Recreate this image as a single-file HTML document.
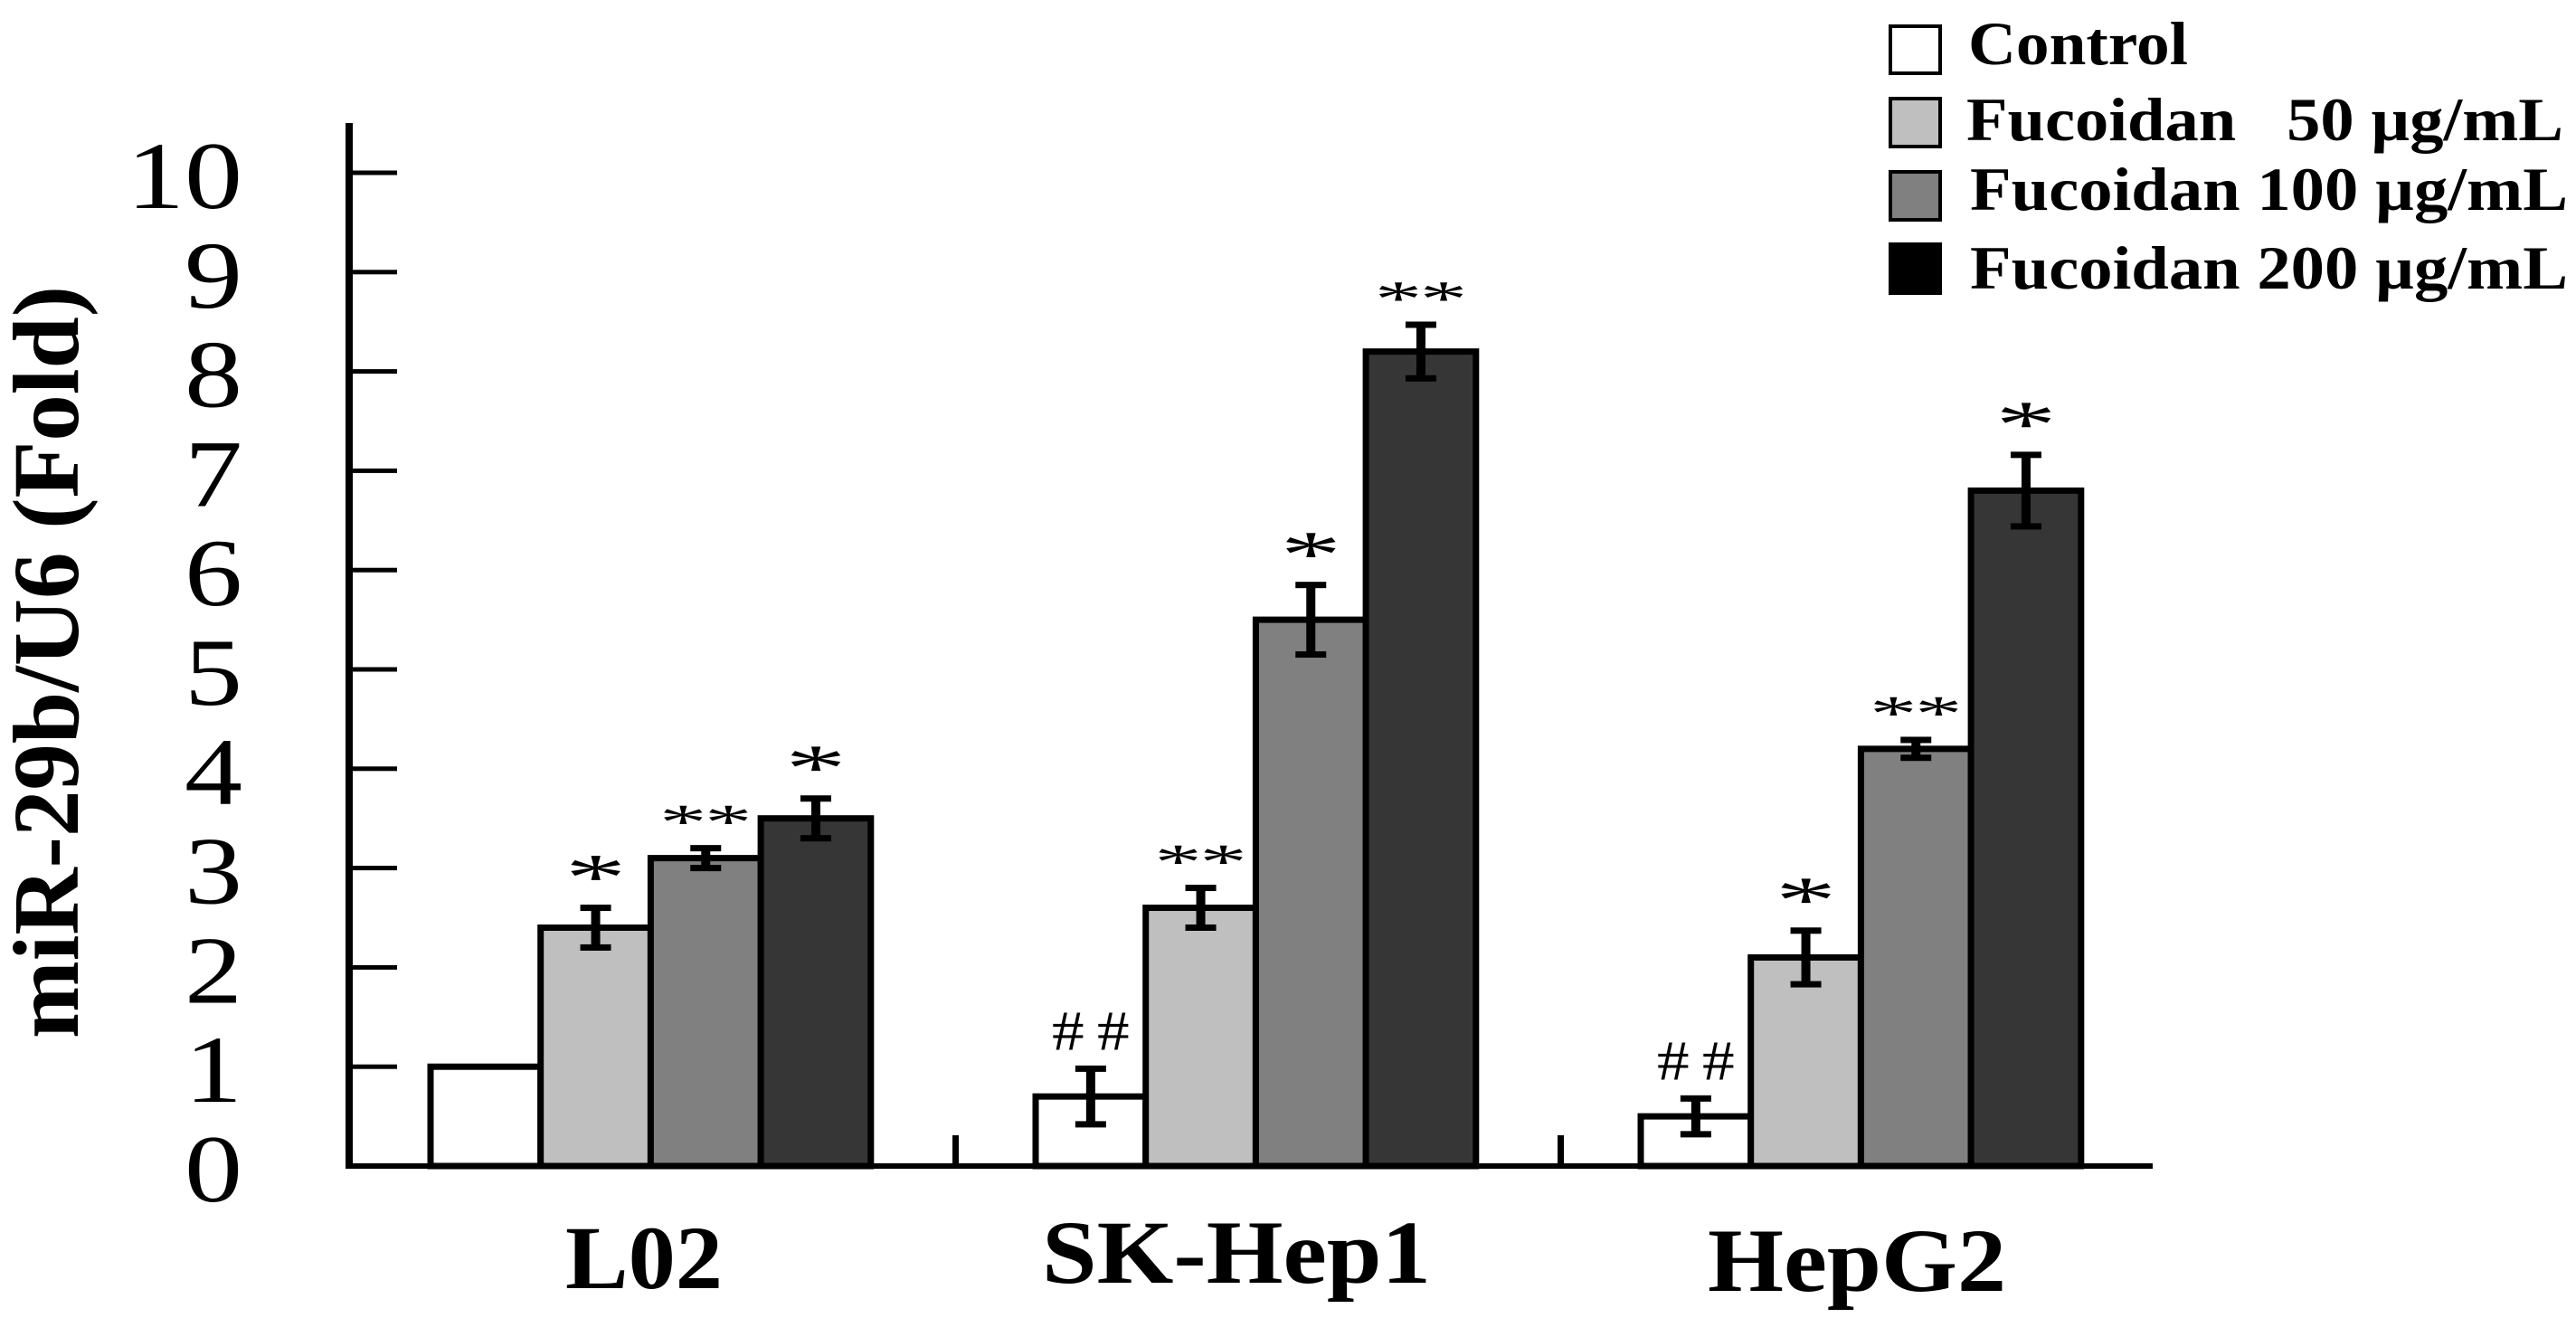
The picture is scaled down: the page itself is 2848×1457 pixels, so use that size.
<!DOCTYPE html>
<html lang="en">
<head>
<meta charset="utf-8">
<title>miR-29b/U6 fold change by cell line</title>
<style>
html,body{margin:0;padding:0;background:#fff;width:2848px;height:1457px;overflow:hidden}
svg{display:block}
text{font-family:"Liberation Serif","DejaVu Serif",serif;fill:#000}
.bold{font-weight:bold}
</style>
</head>
<body>
<svg id="chart" xmlns="http://www.w3.org/2000/svg" width="2848" height="1457" viewBox="0 0 2848 1457">
  <rect x="0" y="0" width="2848" height="1457" fill="#ffffff"/>
  <text class="bold" transform="translate(86,1148) rotate(-90)" font-size="104" textLength="832" lengthAdjust="spacingAndGlyphs">miR-29b/U6 (Fold)</text>
  <g id="marks"></g>
  <text class="bold" x="625" y="1424" font-size="100" textLength="174" lengthAdjust="spacingAndGlyphs">L02</text>
  <text class="bold" x="1152" y="1418" font-size="100" textLength="430" lengthAdjust="spacingAndGlyphs">SK-Hep1</text>
  <text class="bold" x="1888" y="1427" font-size="100" textLength="330" lengthAdjust="spacingAndGlyphs">HepG2</text>
  <g>
    <g>
      <rect x="2090" y="29" width="55" height="52" fill="#ffffff" stroke="#000" stroke-width="4"/>
      <text class="bold" x="2176" y="71" font-size="68" textLength="243" lengthAdjust="spacingAndGlyphs">Control</text>
    </g>
    <g>
      <rect x="2090" y="109" width="55" height="53" fill="#bfbfbf" stroke="#000" stroke-width="4"/>
      <text class="bold" x="2174" y="155" font-size="68" textLength="660" lengthAdjust="spacingAndGlyphs" style="white-space:pre">Fucoidan   50 µg/mL</text>
    </g>
    <g>
      <rect x="2090" y="190" width="55" height="53" fill="#808080" stroke="#000" stroke-width="4"/>
      <text class="bold" x="2178" y="232" font-size="68" textLength="661" lengthAdjust="spacingAndGlyphs">Fucoidan 100 µg/mL</text>
    </g>
    <g>
      <rect x="2088" y="268" width="59" height="58" fill="#000000"/>
      <text class="bold" x="2178" y="319" font-size="68" textLength="661" lengthAdjust="spacingAndGlyphs">Fucoidan 200 µg/mL</text>
    </g>
  </g>
</svg>
<script>
const categories = ["L02", "SK-Hep1", "HepG2"];
const seriesNames = ["control", "fucoidan-50", "fucoidan-100", "fucoidan-200"];
const controlValues = [1.0, 0.7, 0.5];
const fucoidan50Values = [2.4, 2.6, 2.1];
const fucoidan100Values = [3.1, 5.5, 4.2];
const fucoidan200Values = [3.5, 8.2, 6.8];
const controlErrors = [0, 0.28, 0.18];
const fucoidan50Errors = [0.2, 0.2, 0.27];
const fucoidan100Errors = [0.1, 0.35, 0.09];
const fucoidan200Errors = [0.2, 0.27, 0.36];
const controlMarks = ["", "##", "##"];
const fucoidan50Marks = ["*", "**", "*"];
const fucoidan100Marks = ["**", "*", "**"];
const fucoidan200Marks = ["*", "**", "*"];
const yTickLabels = [0, 1, 2, 3, 4, 5, 6, 7, 8, 9, 10];

const seriesValues = [controlValues, fucoidan50Values, fucoidan100Values, fucoidan200Values];
const seriesErrors = [controlErrors, fucoidan50Errors, fucoidan100Errors, fucoidan200Errors];
const seriesMarks = [controlMarks, fucoidan50Marks, fucoidan100Marks, fucoidan200Marks];
const seriesFills = ["#ffffff", "#bfbfbf", "#808080", "#363636"];

const NS = "http://www.w3.org/2000/svg";
const marks = document.getElementById("marks");
const BASE_Y = 1289, UNIT = 109.8, GROUP_X = 476, GROUP_STEP = 669, BAR_W = 121.7;
const yScale = v => BASE_Y - v * UNIT;
const barLeft = (g, s) => GROUP_X + g * GROUP_STEP + s * BAR_W;
const barMid = (g, s) => barLeft(g, s) + BAR_W / 2;

function make(tag, attrs, text) {
  const el = document.createElementNS(NS, tag);
  for (const k in attrs) el.setAttribute(k, attrs[k]);
  if (text !== undefined) el.textContent = text;
  marks.appendChild(el);
  return el;
}

/* y axis ticks and labels */
yTickLabels.forEach(t => {
  if (t > 0) {
    const tick = make("rect", {x: 386, y: yScale(t) - 2.5, width: 53, height: 5, fill: "#000"});
    
    
  }
  const s = String(t);
  const w = s.length * 64;
  const label = make("text", {
    x: 268 - w, y: yScale(t) + 39, "font-size": 106,
    textLength: w, lengthAdjust: "spacingAndGlyphs"
  }, s);
  
  
});

/* group separators on the x axis */
categories.forEach((c, g) => {
  if (g === 0) return;
  const sep = make("rect", {x: GROUP_X + g * GROUP_STEP - 92, y: 1255, width: 7, height: 34, fill: "#000"});
  
  
});

/* bars */
categories.forEach((c, g) => {
  seriesValues.forEach((vals, s) => {
    const top = yScale(vals[g]);
    const bar = make("rect", {
      x: barLeft(g, s), y: top, width: BAR_W, height: BASE_Y - top,
      fill: seriesFills[s], stroke: "#000", "stroke-width": 7
    });
    
    
  });
});

/* error bars and significance marks */
categories.forEach((c, g) => {
  seriesValues.forEach((vals, s) => {
    const err = seriesErrors[s][g];
    const cx = barMid(g, s);
    const hi = yScale(vals[g] + err), lo = yScale(vals[g] - err);
    if (err > 0) {
      const stem = make("rect", {x: cx - 5, y: hi, width: 10, height: lo - hi, fill: "#000"});
      
      
      const capTop = make("rect", {x: cx - 17, y: hi - 3.5, width: 34, height: 7, fill: "#000"});
      
      
      const capBottom = make("rect", {x: cx - 17, y: lo - 3.5, width: 34, height: 7, fill: "#000"});
      
      
    }
    const sig = seriesMarks[s][g];
    const n = sig.length;
    const my = hi - 41;
    for (let i = 0; i < n; i++) {
      const mx = cx + (i - (n - 1) / 2) * 50;
      const ch = sig[i];
      let sx, sy, fs, dy;
      if (ch === "#") { fs = 62; sx = 1.15; sy = 1; dy = 20; }
      else if (n === 2) { fs = 100; sx = 1.05; sy = 0.55; dy = 55; }
      else { fs = 100; sx = 1.35; sy = 0.73; dy = 43; }
      const glyph = make("text", {
        transform: "translate(" + mx + "," + my + ") scale(" + sx + "," + sy + ")",
        x: 0, y: dy, "font-size": fs, "text-anchor": "middle"
      }, ch);
      
      
    }
  });
});

/* axis lines */
const yAxis = make("rect", {x: 382, y: 136, width: 8, height: BASE_Y - 136 + 3, fill: "#000"});


const xAxis = make("rect", {x: 382, y: BASE_Y - 3, width: 1998, height: 6, fill: "#000"});


</script>
</body>
</html>
